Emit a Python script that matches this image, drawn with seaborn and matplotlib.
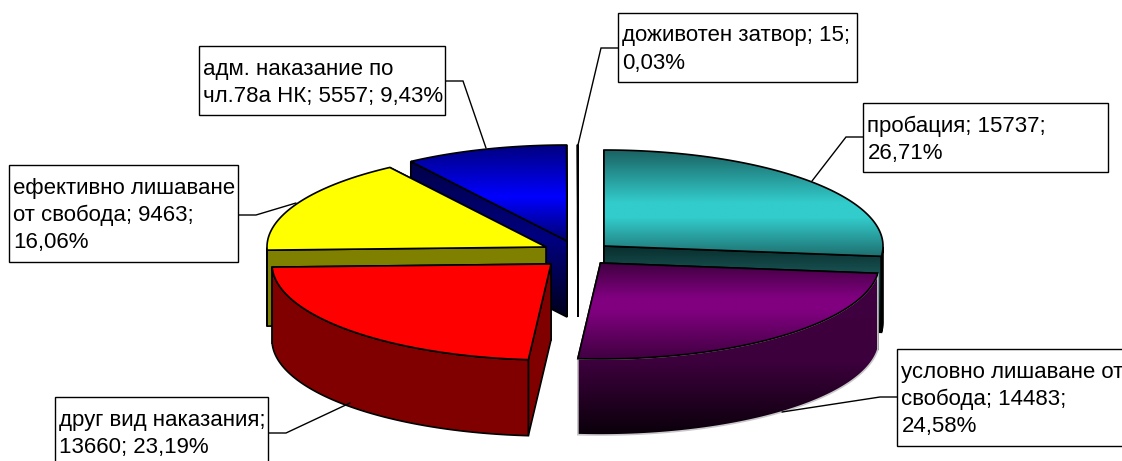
import numpy as np
import matplotlib
matplotlib.use("Agg")
import matplotlib.pyplot as plt
from matplotlib.patches import Polygon, Rectangle
import seaborn as sns

# --- data (clockwise from 12 o'clock) ---
values = [15737, 14483, 13660, 9463, 5557, 15]
label_templates = [
    "пробация; {v};\n{p}",
    "условно лишаване от\nсвобода; {v};\n{p}",
    "друг вид наказания;\n{v}; {p}",
    "ефективно лишаване\nот свобода; {v};\n{p}",
    "адм. наказание по\nчл.78а НК; {v}; {p}",
    "доживотен затвор; {v};\n{p}",
]

# --- layout, in pixels of the 1122x461 canvas ---
W, H = 1122, 461
RX, RY, DEPTH = 279, 96, 76
centers = [(604, 246), (600.5, 263), (551, 264), (546, 247), (567, 241), (578, 241)]
draw_order = [5, 4, 3, 0, 1, 2]
boxes = [(863, 103, 1108, 172), (897, 349, 1130, 446), (55, 397, 268, 470),
         (9, 165, 238, 262), (199, 46, 445, 115), (618, 13, 857, 82)]
leaders = [[(863, 137), (846, 137), (812, 181)],
           [(897, 397), (880, 397), (782, 412)],
           [(268, 433), (286, 433), (350, 403)],
           [(238, 215), (256, 215), (296, 203)],
           [(445, 81), (463, 81), (486, 148)],
           [(618, 48), (601, 48), (578, 145)]]
# colour stops of the vertical gradients: (position, colour)
top_grad = [[(0, "#1a6060"), (.5, "#33cccc"), (.64, "#33cccc"), (1, "#1f7070")],
            [(0, "#400040"), (.36, "#800080"), (.5, "#800080"), (1, "#400040")],
            [(0, "#ff0000"), (1, "#ff0000")],
            [(0, "#ffff00"), (1, "#ffff00")],
            [(0, "#000080"), (.54, "#0000ff"), (1, "#000070")],
            [(0, "#000000"), (1, "#000000")]]
wall_grad = [[(0, "#082c2c"), (.3, "#174f4f"), (.6, "#0c2c2c"), (1, "#000000")],
             [(0, "#400040"), (.55, "#3c003c"), (1, "#0a000a")],
             [(0, "#800000"), (1, "#800000")],
             [(0, "#808000"), (1, "#808000")],
             [(0, "#000048"), (.5, "#000080"), (1, "#00001a")],
             [(0, "#000000"), (1, "#000000")]]
rim_color = ["#000000", "#c8c8c8", "#000000", "#000000", "#000000", "#000000"]

sns.set_theme(style="white", rc={"axes.grid": False})
plt.rcParams["font.family"] = ["Liberation Sans", "DejaVu Sans"]

fig = plt.figure(figsize=(W / 100, H / 100), dpi=100)
ax = fig.add_axes([0, 0, 1, 1])
ax.axis("off")


def gradient_fill(pts, stops, z):
    pts = np.asarray(pts)
    cmap = matplotlib.colors.LinearSegmentedColormap.from_list(
        "g", [(p, c) for p, c in stops])
    y0, y1 = pts[:, 1].min(), pts[:, 1].max()
    x0, x1 = pts[:, 0].min(), pts[:, 0].max()
    grad = np.linspace(0, 1, 256).reshape(-1, 1)
    im = ax.imshow(grad, cmap=cmap, extent=(x0, x1, y1, y0), aspect="auto",
                   zorder=z, origin="upper", vmin=0, vmax=1, interpolation="bilinear")
    im.set_clip_path(Polygon(pts, transform=ax.transData))


def outline(pts, z, color="black", lw=1.2):
    ax.add_patch(Polygon(pts, closed=True, fill=False, ec=color, lw=lw, zorder=z,
                         joinstyle="miter"))


total = sum(values)
shares = [v / total * 360 for v in values]
starts = np.cumsum([0] + shares[:-1])

z = 2
for i in draw_order:
    cx, cy = centers[i]
    t0, t1 = np.radians(starts[i]), np.radians(starts[i] + shares[i])
    th = np.linspace(t0, t1, 120)
    ax_x, ax_y = cx + RX * np.sin(th), cy - RY * np.cos(th)
    arc = np.column_stack([ax_x, ax_y])
    apex = np.array([cx, cy])
    down = np.array([0, DEPTH])
    top = np.vstack([apex, arc])
    # radial walls: the one further back first, so the nearer one covers it
    for end in sorted((arc[0], arc[-1]), key=lambda e: e[1]):
        wall = np.array([apex, end, end + down, apex + down])
        gradient_fill(wall, wall_grad[i], z)
        outline(wall, z + .1)
        z += .2
    # outer wall
    mask = np.cos(th) < 0
    if mask.any():
        front = arc[mask]
        band = np.vstack([front, (front + down)[::-1]])
        gradient_fill(band, wall_grad[i], z)
        outline(band, z + .1, color=rim_color[i])
        z += .2
    # top face
    gradient_fill(top, top_grad[i], z)
    outline(top, z + .1)
    z += .2

z = 50
for i, (tpl, box, lead) in enumerate(zip(label_templates, boxes, leaders)):
    pct = f"{values[i] / total * 100:.2f}%".replace(".", ",")
    txt = tpl.format(v=values[i], p=pct)
    x0, y0, x1, y1 = box
    xs, ys = zip(*lead)
    ax.plot(xs, ys, color="black", lw=1.0, zorder=z, solid_joinstyle="miter")
    ax.add_patch(Rectangle((x0, y0), x1 - x0, y1 - y0, fc="white", ec="black",
                           lw=1.0, zorder=z + 1))
    ax.text(x0 + 4.5, y0 + 12.5, txt, fontsize=16.0, color="black", va="top", ha="left",
            linespacing=1.39, zorder=z + 2)

ax.set_xlim(0, W)
ax.set_ylim(H, 0)
fig.savefig("out.png", dpi=100, facecolor="white")
